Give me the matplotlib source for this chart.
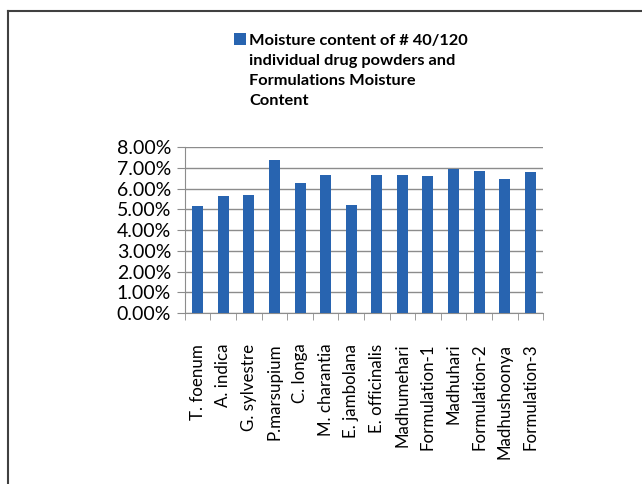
import matplotlib.pyplot as plt
from matplotlib.lines import Line2D
from matplotlib.patches import Rectangle
from matplotlib.ticker import PercentFormatter, FixedLocator
import numpy as np

# Sample names and moisture content (%)
samples = ['T. foenum', 'A. indica', 'G. sylvestre', 'P.marsupium', 'C. longa',
           'M. charantia', 'E. jambolana', 'E. officinalis', 'Madhumehari',
           'Formulation-1', 'Madhuhari', 'Formulation-2', 'Madhushoonya',
           'Formulation-3']
moisture = [5.18, 5.65, 5.71, 7.40, 6.26, 6.67, 5.23, 6.67, 6.67, 6.62,
            6.96, 6.86, 6.48, 6.80]
legend_lines = ['Moisture content of # 40/120', 'individual drug powders and',
                'Formulations Moisture', 'Content']

plt.rcParams['font.family'] = ['Lato', 'DejaVu Sans']

fig = plt.figure(figsize=(6.42, 4.84), dpi=100)
ax = fig.add_axes([0.288, 0.353, 0.558, 0.343])

x = np.arange(len(samples))
bars = ax.bar(x, moisture, width=0.43, color='#2864B0', zorder=3)

ax.set_xlim(-0.5, len(samples) - 0.5)
ax.set_ylim(0, 8)
ax.set_yticks(np.arange(0, 9, 1))
ax.yaxis.set_major_formatter(PercentFormatter(decimals=2))
ax.grid(axis='y', color='#8c8c8c', linewidth=1, zorder=0)

# labels at bar centres, tick marks between bars
ax.set_xticks(x)
ax.set_xticklabels(samples, rotation=90, fontsize=12.2)
ax.xaxis.set_minor_locator(FixedLocator(np.arange(-0.5, len(samples), 1)))
ax.tick_params(axis='x', which='major', length=0, pad=22)
ax.tick_params(axis='x', which='minor', length=5, color='#8c8c8c', direction='out')
ax.tick_params(axis='y', length=6, color='#8c8c8c', labelsize=14, pad=4)

for s in ['top', 'right']:
    ax.spines[s].set_visible(False)
for s in ['left', 'bottom']:
    ax.spines[s].set_color('#8c8c8c')

# legend: one square, text on four lines
blank = [Rectangle((0, 0), 1, 1, visible=False) for _ in legend_lines[1:]]
leg = fig.legend([bars] + blank, legend_lines, loc='upper left',
                 bbox_to_anchor=(0.364, 0.932), frameon=False,
                 prop={'weight': 'bold', 'size': 11.8},
                 handlelength=0.75, handleheight=0.75, handletextpad=0.2,
                 labelspacing=0.33, borderpad=0, borderaxespad=0)

# outer frame (top and left edges)
fig.add_artist(Line2D([0.0125, 1], [0.978, 0.978], color='#404040', lw=1.5))
fig.add_artist(Line2D([0.0125, 0.0125], [0, 0.978], color='#404040', lw=1.5))

fig.savefig('out.png', dpi=100)
